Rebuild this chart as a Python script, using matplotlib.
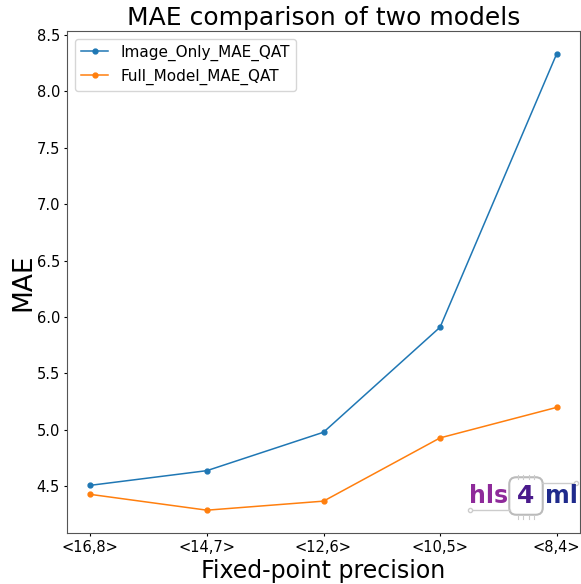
import matplotlib.pyplot as plt
from matplotlib.patches import FancyBboxPatch

# --- dados ---
precisions = ['<16,8>', '<14,7>', '<12,6>', '<10,5>', '<8,4>']
image_only_mae = [4.51, 4.64, 4.98, 5.91, 8.33]
full_model_mae = [4.43, 4.29, 4.37, 4.93, 5.20]

fig = plt.figure(figsize=(5.81, 5.84), dpi=100)
ax = fig.add_axes([67 / 581, 1 - 533 / 584, 513 / 581, 502 / 584])

ax.plot(precisions, image_only_mae, marker='.', markersize=7, linewidth=1.1,
        color='#1f77b4', label='Image_Only_MAE_QAT')
ax.plot(precisions, full_model_mae, marker='.', markersize=7, linewidth=1.1,
        color='#ff7f0e', label='Full_Model_MAE_QAT')

ax.set_title('MAE comparison of two models', fontsize=18, pad=4)
ax.set_xlabel('Fixed-point precision', fontsize=17, labelpad=3)
ax.set_ylabel('MAE', fontsize=19, labelpad=0)
ax.tick_params(labelsize=10.5, length=2.5, pad=2.5)
ax.legend(fontsize=11, loc='upper left', handlelength=1.8)

for s in ax.spines.values():
    s.set_color('#555555')

# --- logo hls4ml (aproximado com texto) ---
fig.text(489 / 581, 1 - 496 / 584, 'hls', fontsize=17, fontweight='semibold',
         color='#8e2a9a', ha='center', va='center')
fig.text(526 / 581, 1 - 496 / 584, '4', fontsize=18, fontweight='semibold',
         color='#4a1a8c', ha='center', va='center')
fig.text(561 / 581, 1 - 496 / 584, 'ml', fontsize=17, fontweight='semibold',
         color='#1f2a8c', ha='center', va='center')
box = FancyBboxPatch((511 / 581, 1 - 513 / 584), 30 / 581, 34 / 584,
                     boxstyle='round,pad=0.003,rounding_size=0.012',
                     transform=fig.transFigure, fill=False,
                     edgecolor='#bbbbbb', linewidth=1.5)
fig.patches.append(box)
# pinos do chip
for px in [518, 523, 529, 534]:
    fig.lines.append(plt.Line2D([px / 581, px / 581], [1 - 475 / 584, 1 - 479 / 584],
                                transform=fig.transFigure, color='#cccccc', lw=0.8))
    fig.lines.append(plt.Line2D([px / 581, px / 581], [1 - 515 / 584, 1 - 519 / 584],
                                transform=fig.transFigure, color='#cccccc', lw=0.8))
fig.lines.append(plt.Line2D([470 / 581, 510 / 581], [1 - 510 / 584, 1 - 510 / 584],
                            transform=fig.transFigure, color='#cccccc', lw=1,
                            marker='o', markevery=[0], markersize=3,
                            markerfacecolor='white'))
fig.lines.append(plt.Line2D([542 / 581, 576 / 581], [1 - 483 / 584, 1 - 483 / 584],
                            transform=fig.transFigure, color='#cccccc', lw=1,
                            marker='o', markevery=[1], markersize=3,
                            markerfacecolor='white'))

fig.savefig('out.png', dpi=100)
